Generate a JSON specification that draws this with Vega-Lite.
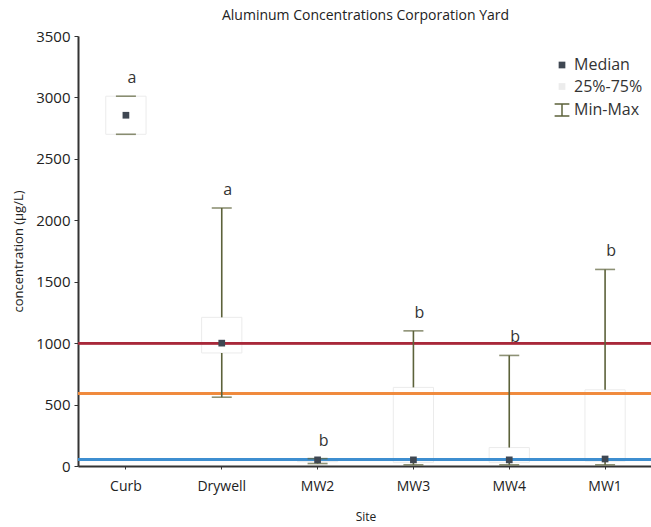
{
  "$schema": "https://vega.github.io/schema/vega-lite/v6.json",
  "autosize": {"type": "none"},
  "padding": {"left": 78, "top": 36, "right": 0, "bottom": 61},
  "width": 575,
  "height": 430,
  "background": "white",
  "config": {
    "font": "Open Sans",
    "view": {"stroke": null},
    "axis": {"labelColor": "#222", "titleColor": "#222", "titleFontWeight": "normal", "domainColor": "#333", "tickColor": "#333", "grid": false}
  },
  "title": {"text": "Aluminum Concentrations Corporation Yard", "fontSize": 14, "fontWeight": "normal", "color": "#222", "offset": 6},
  "data": {
    "values": [
      {"site": "Curb", "min": 2700, "q1": 2700, "median": 2855, "q3": 3010, "max": 3010, "group": "a"},
      {"site": "Drywell", "min": 560, "q1": 920, "median": 1000, "q3": 1210, "max": 2100, "group": "a"},
      {"site": "MW2", "min": 20, "q1": 35, "median": 50, "q3": 55, "max": 60, "group": "b"},
      {"site": "MW3", "min": 10, "q1": 30, "median": 50, "q3": 640, "max": 1100, "group": "b"},
      {"site": "MW4", "min": 10, "q1": 30, "median": 50, "q3": 150, "max": 900, "group": "b"},
      {"site": "MW1", "min": 10, "q1": 40, "median": 57, "q3": 620, "max": 1600, "group": "b"}
    ]
  },
  "encoding": {
    "x": {
      "field": "site", "type": "nominal", "sort": null,
      "scale": {"paddingInner": 0, "paddingOuter": 0},
      "axis": {"title": "Site", "labelAngle": 0, "labelFontSize": 14, "titleFontSize": 12, "domainWidth": 2, "tickSize": 3, "labelPadding": 10, "titlePadding": 18, "bandPosition": 0.5}
    }
  },
  "layer": [
    {
      "mark": {"type": "bar", "width": {"band": 0.42}, "fill": "white", "stroke": "#ebebeb", "strokeWidth": 1},
      "encoding": {
        "y": {"field": "q1", "type": "quantitative", "scale": {"domain": [0, 3500], "nice": false},
          "axis": {"title": "concentration (µg/L)", "format": "d", "values": [0, 500, 1000, 1500, 2000, 2500, 3000, 3500], "labelFontSize": 15, "titleFontSize": 13, "domainWidth": 2, "tickSize": 4, "labelPadding": 4, "titlePadding": 10}},
        "y2": {"field": "q3"}
      }
    },
    {
      "mark": {"type": "rule", "color": "#a8283a", "strokeWidth": 2},
      "encoding": {"x": null, "y": {"datum": 1000, "type": "quantitative"}}
    },
    {
      "mark": {"type": "rule", "color": "#f08a3c", "strokeWidth": 2},
      "encoding": {"x": null, "y": {"datum": 590, "type": "quantitative"}}
    },
    {
      "mark": {"type": "rule", "color": "#3d8ed0", "strokeWidth": 2.5},
      "encoding": {"x": null, "y": {"datum": 55, "type": "quantitative"}}
    },
    {
      "mark": {"type": "rule", "color": "#5c623a", "strokeWidth": 1.6},
      "encoding": {"y": {"field": "q3", "type": "quantitative"}, "y2": {"field": "max"}}
    },
    {
      "mark": {"type": "rule", "color": "#5c623a", "strokeWidth": 1.6},
      "encoding": {"y": {"field": "min", "type": "quantitative"}, "y2": {"field": "q1"}}
    },
    {
      "mark": {"type": "tick", "color": "#5c623a", "size": 20, "thickness": 1.6, "orient": "horizontal"},
      "encoding": {"y": {"field": "max", "type": "quantitative"}}
    },
    {
      "mark": {"type": "tick", "color": "#5c623a", "size": 20, "thickness": 1.6, "orient": "horizontal"},
      "encoding": {"y": {"field": "min", "type": "quantitative"}}
    },
    {
      "mark": {"type": "point", "filled": true, "size": 45, "opacity": 1},
      "encoding": {
        "y": {"field": "median", "type": "quantitative"},
        "color": {
          "datum": "Median",
          "scale": {"domain": ["Median", "25%-75%", "Min-Max"], "range": ["#3f4752", "#ececec", "#5c623a"]},
          "legend": {
            "title": null, "orient": "none", "legendX": 476, "legendY": 21,
            "labelFontSize": 16, "labelColor": "#333", "labelOffset": 4, "rowPadding": 5.5, "padding": 0,
            "symbolSize": 45, "symbolOpacity": 1
          }
        },
        "shape": {
          "datum": "Median",
          "scale": {"domain": ["Median", "25%-75%", "Min-Max"], "range": ["square", "square", "M-2.2,-2H2.2V-1.55H0.22V1.55H2.2V2H-2.2V1.55H-0.22V-1.55H-2.2Z"]},
          "legend": {
            "title": null, "orient": "none", "legendX": 476, "legendY": 21,
            "labelFontSize": 16, "labelColor": "#333", "labelOffset": 4, "rowPadding": 5.5, "padding": 0,
            "symbolSize": 45, "symbolOpacity": 1
          }
        }
      }
    },
    {
      "mark": {"type": "text", "fontSize": 16, "color": "#333", "dy": -18, "dx": 6, "baseline": "middle"},
      "encoding": {"y": {"field": "max", "type": "quantitative"}, "text": {"field": "group"}}
    }
  ]
}
